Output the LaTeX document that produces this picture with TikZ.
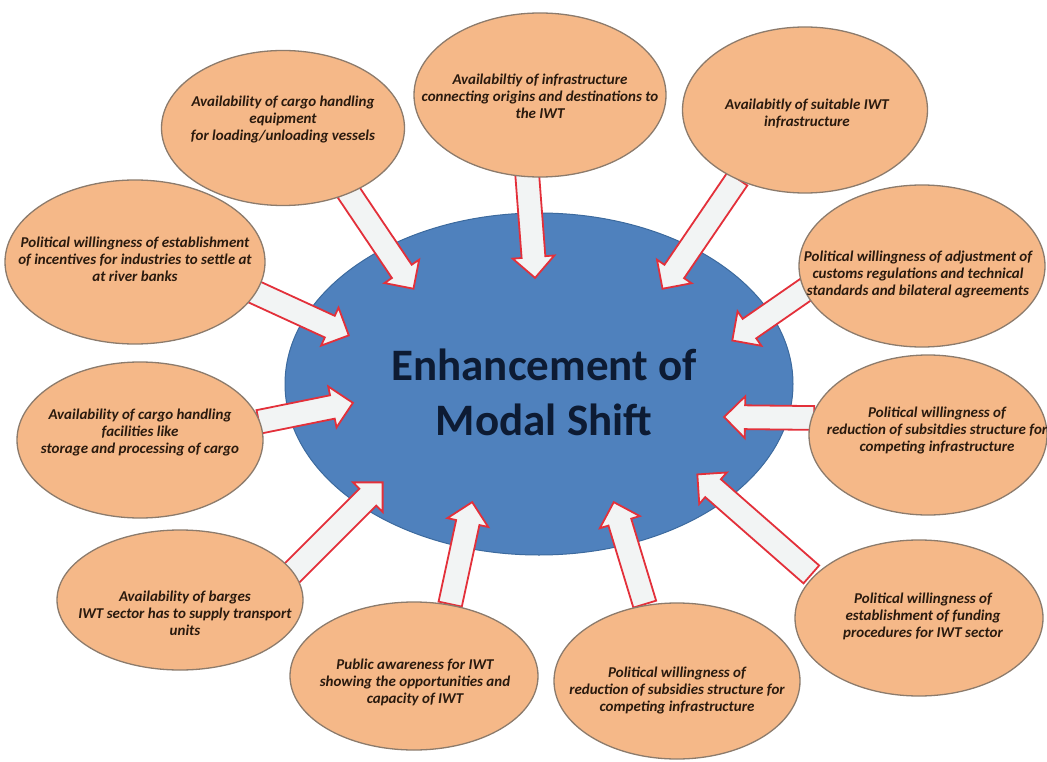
\documentclass[tikz,border=0pt]{standalone}
\usepackage{fontspec}
\setmainfont{Carlito}
\usetikzlibrary{shapes.geometric,shapes.arrows,calc}
\definecolor{orfill}{HTML}{F5B888}
\definecolor{ordraw}{HTML}{8C7B6C}
\definecolor{bluefill}{HTML}{4F81BD}
\definecolor{bluedraw}{HTML}{3C6A9E}
\definecolor{arrred}{HTML}{E3303A}
\definecolor{arrfill}{HTML}{F2F4F4}
\definecolor{outtext}{HTML}{2A1A0E}
\definecolor{centext}{HTML}{0D1B33}
\tikzset{
  outell/.style={ellipse, fill=orfill, draw=ordraw, line width=1.3pt, inner sep=0pt},
  outtxt/.style={align=center, text=outtext, font=\fontsize{15}{17}\selectfont\bfseries\itshape, inner sep=0pt},
  blockarrow/.style={single arrow, draw=arrred, fill=arrfill, line width=1.8pt, inner xsep=0pt, inner ysep=11pt,
     single arrow head extend=9pt}
}
\newcommand{\barrow}[2]{%
  \path let \p1=(#1), \p2=(#2), \n1={atan2(\y2-\y1,\x2-\x1)}, \n2={veclen(\x2-\x1,\y2-\y1)} in
    node[blockarrow, minimum height=\n2, rotate=\n1, anchor=tail] at (#1) {};}
\begin{document}
\begin{tikzpicture}[x=1pt,y=-1pt]
\useasboundingbox (0,0) rectangle (1047,762);
% central ellipse
\node[ellipse, fill=bluefill, draw=bluedraw, line width=1pt, minimum width=508pt, minimum height=342pt, inner sep=0pt] (c) at (539,384) {};
\node[align=center, text=centext, font=\fontsize{45}{55}\selectfont\bfseries, inner sep=0pt] (ct) at (544,392) {Enhancement of\\Modal Shift};
% arrow end points
\coordinate (t1) at (347,190);  \coordinate (h1) at (413,288);
\coordinate (t2) at (527,172);  \coordinate (h2) at (535,277);
\coordinate (t3) at (738,178);  \coordinate (h3) at (663,288);
\coordinate (t4) at (250,290);  \coordinate (h4) at (348,335);
\coordinate (t5) at (808,288);  \coordinate (h5) at (733,340);
\coordinate (t6) at (258,422);  \coordinate (h6) at (352,403);
\coordinate (t7) at (815,418);  \coordinate (h7) at (725,417);
\coordinate (t8) at (290,575);  \coordinate (h8) at (382,483);
\coordinate (t9) at (450,605);  \coordinate (h9) at (472,503);
\coordinate (t10) at (645,605); \coordinate (h10) at (614,503);
\coordinate (t11) at (812,575); \coordinate (h11) at (698,475);
\foreach \i in {1,...,11}{\barrow{t\i}{h\i}}
% outer ellipses
\node[outell, minimum width=243pt, minimum height=155pt] (o1) at (283,128) {};
\node[outell, minimum width=252pt, minimum height=164pt] (o2) at (540,95) {};
\node[outell, minimum width=245pt, minimum height=166pt] (o3) at (805,110) {};
\node[outell, minimum width=260pt, minimum height=164pt] (o4) at (135,262) {};
\node[outell, minimum width=246pt, minimum height=162pt] (o5) at (922,266) {};
\node[outell, minimum width=246pt, minimum height=156pt] (o6) at (140,440) {};
\node[outell, minimum width=238pt, minimum height=160pt] (o7) at (928,435) {};
\node[outell, minimum width=246pt, minimum height=140pt] (o8) at (180,600) {};
\node[outell, minimum width=248pt, minimum height=156pt] (o9) at (919,618) {};
\node[outell, minimum width=248pt, minimum height=148pt] (o10) at (414,676) {};
\node[outell, minimum width=246pt, minimum height=156pt] (o11) at (677,681) {};
% texts
\node[outtxt] (l1) at (283,120) {Availability of cargo handling\\equipment\\for loading/unloading vessels};
\node[outtxt] (l2) at (540,96) {Availabiltiy of infrastructure\\connecting origins and destinations to\\the IWT};
\node[outtxt] (l3) at (807,114) {Availabitly of suitable IWT\\infrastructure};
\node[outtxt] (l4) at (135,259) {Political willingness of establishment\\of incentives for industries to settle at\\at river banks};
\node[outtxt] (l5) at (918,274) {Political willingness of adjustment of\\customs regulations and technical\\standards and bilateral agreements};
\node[outtxt] (l6) at (140,432) {Availability of cargo handling\\facilities like\\storage and processing of cargo};
\node[outtxt] (l7) at (937,430) {Political willingness of\\reduction of subsitdies structure for\\competing infrastructure};
\node[outtxt] (l8) at (185,613) {Availability of barges\\IWT sector has to supply transport\\units};
\node[outtxt] (l9) at (923,616) {Political willingness of\\establishment of funding\\procedures for IWT sector};
\node[outtxt] (l10) at (415,682) {Public awareness for IWT\\showing the opportunities and\\capacity of IWT};
\node[outtxt] (l11) at (677,690) {Political willingness of\\reduction of subsidies structure for\\competing infrastructure};
\end{tikzpicture}
\end{document}
